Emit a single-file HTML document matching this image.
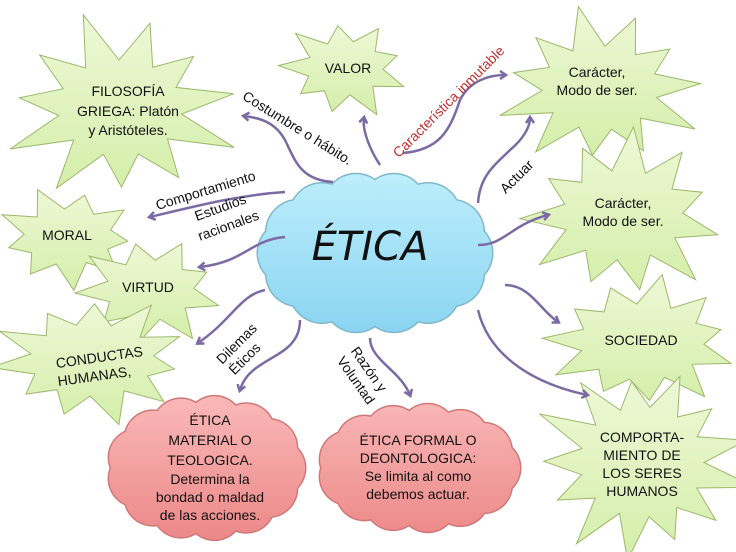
<!DOCTYPE html>
<html><head><meta charset="utf-8"><style>
html,body{margin:0;padding:0;background:#fff;}
svg{display:block;font-family:"Liberation Sans",sans-serif;}
</style></head><body>
<svg id="s" width="736" height="552" viewBox="0 0 736 552" xmlns="http://www.w3.org/2000/svg">
<defs>
<linearGradient id="gs" x1="0" y1="0" x2="0" y2="1"><stop offset="0" stop-color="#eef8d6"/><stop offset="1" stop-color="#d4eeaa"/></linearGradient>
<linearGradient id="gb" gradientUnits="userSpaceOnUse" x1="0" y1="173" x2="0" y2="333"><stop offset="0" stop-color="#bdeefc"/><stop offset="1" stop-color="#8ad4f1"/></linearGradient>
<linearGradient id="gp" gradientUnits="userSpaceOnUse" x1="0" y1="396" x2="0" y2="540"><stop offset="0" stop-color="#fab8b8"/><stop offset="1" stop-color="#ec8888"/></linearGradient>
<marker id="ar" markerWidth="10" markerHeight="10" refX="6" refY="5" orient="auto" markerUnits="userSpaceOnUse"><path d="M1,1 L7,5 L1,9" fill="none" stroke="#7b6aa3" stroke-width="2.5"/></marker>
</defs>
<g id="shapes"></g>
<g fill="none" stroke="#7b6aa3" stroke-width="2.5" marker-end="url(#ar)">
<path d="M333,182 C300,180 295,160 285,140 C275,122 260,118 244,116"/>
<path d="M285,192 C240,195 200,205 150,217"/>
<path d="M285,237 C250,240 245,262 200,267"/>
<path d="M380,165 C370,150 362,130 364,118"/>
<path d="M403,153 C440,150 450,130 460,100 C470,80 490,75 505,75"/>
<path d="M478,203 C480,175 495,165 510,150 C522,140 530,128 530,118"/>
<path d="M478,245 C505,245 510,225 548,215"/>
<path d="M265,290 C240,295 232,320 198,343"/>
<path d="M300,320 C300,360 250,355 240,390"/>
<path d="M370,338 C370,360 400,370 410,395"/>
<path d="M505,285 C530,285 540,310 558,322"/>
<path d="M478,310 C490,360 540,385 587,395"/>
</g>
<g font-size="14" fill="#111" text-anchor="middle">
<text x="128" y="96">FILOSOFÍA</text><text x="128" y="116">GRIEGA: Platón</text><text x="128" y="135">y Aristóteles.</text>
<text x="348" y="73">VALOR</text>
<text x="597" y="77">Carácter,</text><text x="597" y="95">Modo de ser.</text>
<text x="623" y="208">Carácter,</text><text x="623" y="226">Modo de ser.</text>
<text x="67" y="240">MORAL</text>
<text x="148" y="292">VIRTUD</text>
<text x="100" y="362" transform="rotate(-8 100 362)">CONDUCTAS</text><text x="95" y="381" transform="rotate(-8 95 381)">HUMANAS,</text>
<text x="641" y="345">SOCIEDAD</text>
<text x="642" y="442">COMPORTA-</text><text x="642" y="460">MIENTO DE</text><text x="642" y="478">LOS SERES</text><text x="642" y="496">HUMANOS</text>
<text x="210" y="425">ÉTICA</text><text x="210" y="445">MATERIAL O</text><text x="210" y="465">TEOLOGICA.</text><text x="210" y="484">Determina la</text><text x="210" y="502">bondad o maldad</text><text x="210" y="520">de las acciones.</text>
<text x="418" y="445">ÉTICA FORMAL O</text><text x="418" y="463">DEONTOLOGICA:</text><text x="418" y="481">Se limita al como</text><text x="418" y="499">debemos actuar.</text>
<text x="370" y="260" font-size="40" font-style="italic" font-family="DejaVu Sans, sans-serif">ÉTICA</text>
<text x="295" y="132" transform="rotate(32 295 132)">Costumbre o  hábito.</text>
<text x="207" y="195" transform="rotate(-17 207 195)">Comportamiento</text>
<text x="222" y="212" transform="rotate(-20 222 212)">Estudios</text><text x="230" y="230" transform="rotate(-20 230 230)">racionales</text>
<text x="452" y="105" fill="#c0302f" transform="rotate(-45 452 105)">Característica inmutable</text>
<text x="520" y="180" transform="rotate(-45 520 180)">Actuar</text>
<text x="240" y="347" transform="rotate(-45 240 347)">Dilemas</text><text x="248" y="362" transform="rotate(-45 248 362)">Éticos</text>
<text x="365" y="372" transform="rotate(55 365 372)">Razón y</text><text x="352" y="383" transform="rotate(55 352 383)">Voluntad</text>
</g>
</svg>
<script>
var NS="http://www.w3.org/2000/svg",g=document.getElementById("shapes");
function star(cx,cy,rx,ry,ix,iy,n,rot){var p=[];for(var i=0;i<2*n;i++){var a=rot+Math.PI*i/n,o=i%2==0,j=o?(1+0.12*Math.sin(i*2.3)):1;p.push((cx+(o?rx*j:ix)*Math.cos(a)).toFixed(1)+","+(cy+(o?ry*j:iy)*Math.sin(a)).toFixed(1));}
var e=document.createElementNS(NS,"polygon");e.setAttribute("points",p.join(" "));e.setAttribute("fill","url(#gs)");e.setAttribute("stroke","#9cb86a");e.setAttribute("stroke-width","1");g.appendChild(e);}
function cloud(cx,cy,rx,ry,fill,stroke,n,r){var c=[];for(var i=0;i<n;i++){var a=2*Math.PI*i/n;c.push([cx+(rx-r)*Math.cos(a),cy+(ry-r)*Math.sin(a)]);}
[[stroke,r+1.5],[fill,r]].forEach(function(s){c.forEach(function(q){var e=document.createElementNS(NS,"circle");e.setAttribute("cx",q[0]);e.setAttribute("cy",q[1]);e.setAttribute("r",s[1]);e.setAttribute("fill",s[0]);g.appendChild(e);});
var e=document.createElementNS(NS,"ellipse");e.setAttribute("cx",cx);e.setAttribute("cy",cy);e.setAttribute("rx",rx-r);e.setAttribute("ry",ry-r);e.setAttribute("fill",s[0]);g.appendChild(e);});}
star(120,108,112,88,62,48,11,-1.3);
star(345,68,62,47,38,27,9,-1.0);
star(600,88,98,75,58,42,11,-1.2);
star(623,215,95,80,60,45,11,-0.9);
star(68,237,68,48,44,28,9,-0.6);
star(150,290,70,52,44,30,9,-1.1);
star(92,360,95,60,62,36,11,-0.4);
star(642,342,92,62,62,38,11,-0.8);
star(642,462,105,92,62,55,13,-1.2);
cloud(375,253,117,80,"url(#gb)","#7fb8cc",14,32);
cloud(206,468,99,72,"url(#gp)","#d07878",13,28);
cloud(419,468,101,64,"url(#gp)","#d07878",13,28);
</script>
</body></html>
